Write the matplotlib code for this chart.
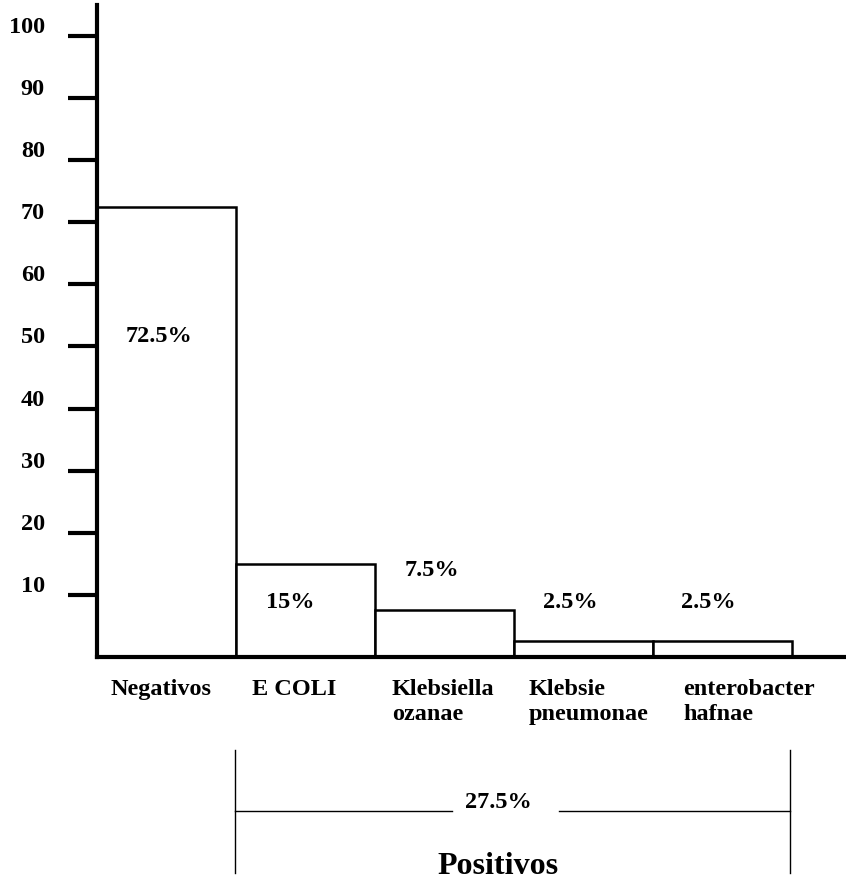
import matplotlib
matplotlib.use("Agg")
import matplotlib.pyplot as plt
import matplotlib.transforms as mtransforms

# ── data ─────────────────────────────────────────────────────────────────────
CATEGORIES = ["Negativos", "E COLI", "Klebsiella\nozanae",
              "Klebsie\npneumonae", "enterobacter\nhafnae"]
VALUES = [72.5, 15, 7.5, 2.5, 2.5]
Y_TICKS = [10, 20, 30, 40, 50, 60, 70, 80, 90, 100]
POSITIVE_IDX = [1, 2, 3, 4]
GROUP_LABEL = "Positivos"

W, H, DPI = 846, 885, 100
FONT = "Liberation Serif"
FS = 17.5

plt.rcParams["font.family"] = [FONT, "DejaVu Serif"]
plt.rcParams["font.weight"] = "bold"


def px(x, y):
    """pixel (from top-left) -> figure fraction"""
    return x / W, 1 - y / H


fig = plt.figure(figsize=(W / DPI, H / DPI), dpi=DPI)
# axis origin at (97, 657) px, top of y axis at 5 px, baseline runs to right edge
x0, y0 = px(97, 657)
x1, y1 = px(846, 5)
ax = fig.add_axes([x0, y0, x1 - x0, y1 - y0])

bar_w = 139.0  # px per bar
ax.set_xlim(0, (846 - 97) / bar_w)
ax.set_ylim(0, (657 - 5) / 6.21)

xs = [i + 0.5 for i in range(len(VALUES))]
ax.bar(xs, VALUES, width=1.0, color="white", edgecolor="black",
       linewidth=1.8, zorder=2)

# spines / ticks
for s in ["top", "right"]:
    ax.spines[s].set_visible(False)
for s in ["left", "bottom"]:
    ax.spines[s].set_linewidth(3.0)
    ax.spines[s].set_zorder(3)
ax.set_xticks([])
ax.set_yticks(Y_TICKS)
ax.set_yticklabels([str(t) for t in Y_TICKS], fontsize=FS, fontweight="bold")
ax.tick_params(axis="y", direction="out", length=21, width=3, pad=16.5)
offset = mtransforms.ScaledTranslation(0, 11 / DPI, fig.dpi_scale_trans)
for lab in ax.get_yticklabels():
    lab.set_transform(lab.get_transform() + offset)

# value labels
val_pos = [(159, 336), (290, 602), (432, 571), (570, 602), (708, 602)]
for v, (vx, vy) in zip(VALUES, val_pos):
    fig.text(*px(vx, vy), f"{v:g}%", ha="center", va="center",
             fontsize=FS, fontweight="bold")

# category labels
cat_x = [111, 252, 392, 529, 683]
for name, cx in zip(CATEGORIES, cat_x):
    fig.text(*px(cx, 679), name, ha="left", va="top", fontsize=FS,
             fontweight="bold", linespacing=1.28)

# bracket for positives
left_px, right_px = 235, 790
lw = 1.0
fig.add_artist(plt.Line2D(*zip(px(left_px, 750), px(left_px, 873)),
                          color="black", lw=lw))
fig.add_artist(plt.Line2D(*zip(px(right_px, 750), px(right_px, 873)),
                          color="black", lw=lw))
fig.add_artist(plt.Line2D(*zip(px(left_px, 811), px(452, 811)),
                          color="black", lw=lw))
fig.add_artist(plt.Line2D(*zip(px(559, 811), px(right_px, 811)),
                          color="black", lw=lw))
total_pos = sum(VALUES[i] for i in POSITIVE_IDX)
fig.text(*px(498, 803), f"{total_pos:g}%", ha="center", va="center",
         fontsize=FS, fontweight="bold")
fig.text(*px(498, 866), GROUP_LABEL, ha="center", va="center",
         fontsize=23, fontweight="bold")

fig.savefig("out.png", dpi=DPI)
